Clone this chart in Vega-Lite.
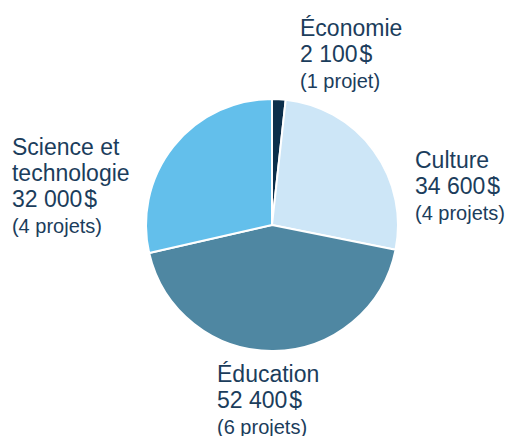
{
  "$schema": "https://vega.github.io/schema/vega-lite/v6.json",
  "autosize": {"type": "none"},
  "width": 252,
  "height": 252,
  "padding": {"left": 146, "top": 99, "right": 112, "bottom": 85},
  "background": "white",
  "config": {"view": {"stroke": null}, "text": {"font": "Liberation Sans"}},
  "data": {
    "values": [
      {"secteur": "Économie", "ordre": 1, "part": 2100, "titre": "Économie\n2 100\u200a$", "projets": "(1 projet)"},
      {"secteur": "Culture", "ordre": 2, "part": 32000, "titre": "Culture\n34 600\u200a$", "projets": "(4 projets)"},
      {"secteur": "Éducation", "ordre": 3, "part": 52400, "titre": "Éducation\n52 400\u200a$", "projets": "(6 projets)"},
      {"secteur": "Science et technologie", "ordre": 4, "part": 34600, "titre": "Science et\ntechnologie\n32 000\u200a$", "projets": "(4 projets)"}
    ]
  },
  "encoding": {
    "theta": {"field": "part", "type": "quantitative", "stack": true},
    "order": {"field": "ordre", "type": "quantitative"}
  },
  "layer": [
    {
      "mark": {"type": "arc", "stroke": "white", "strokeWidth": 2},
      "encoding": {
        "color": {
          "field": "secteur",
          "type": "nominal",
          "scale": {
            "domain": ["Économie", "Culture", "Éducation", "Science et technologie"],
            "range": ["#0c2f4b", "#cde6f7", "#4f87a2", "#63bfeb"]
          },
          "legend": null
        }
      }
    },
    {
      "mark": {"type": "text", "align": "left", "baseline": "alphabetic", "radius": 140, "dx": 20.4, "dy": -49.2, "fontSize": 23, "lineHeight": 26, "lineBreak": "\n", "fill": "#1b3d5c"},
      "encoding": {"detail": {"field": "secteur"}, "text": {"condition": {"test": "datum.secteur === 'Économie'", "field": "titre", "type": "nominal"}, "value": ""}}
    },
    {
      "mark": {"type": "text", "align": "left", "baseline": "alphabetic", "radius": 140, "dx": 20.4, "dy": 2.8, "fontSize": 20, "fill": "#1b3d5c"},
      "encoding": {"detail": {"field": "secteur"}, "text": {"condition": {"test": "datum.secteur === 'Économie'", "field": "projets", "type": "nominal"}, "value": ""}}
    },
    {
      "mark": {"type": "text", "align": "left", "baseline": "alphabetic", "radius": 140, "dx": 30, "dy": 25.7, "fontSize": 23, "lineHeight": 26, "lineBreak": "\n", "fill": "#1b3d5c"},
      "encoding": {"detail": {"field": "secteur"}, "text": {"condition": {"test": "datum.secteur === 'Culture'", "field": "titre", "type": "nominal"}, "value": ""}}
    },
    {
      "mark": {"type": "text", "align": "left", "baseline": "alphabetic", "radius": 140, "dx": 30, "dy": 77.7, "fontSize": 20, "fill": "#1b3d5c"},
      "encoding": {"detail": {"field": "secteur"}, "text": {"condition": {"test": "datum.secteur === 'Culture'", "field": "projets", "type": "nominal"}, "value": ""}}
    },
    {
      "mark": {"type": "text", "align": "left", "baseline": "alphabetic", "radius": 140, "dx": -56.8, "dy": 17, "fontSize": 23, "lineHeight": 26, "lineBreak": "\n", "fill": "#1b3d5c"},
      "encoding": {"detail": {"field": "secteur"}, "text": {"condition": {"test": "datum.secteur === 'Éducation'", "field": "titre", "type": "nominal"}, "value": ""}}
    },
    {
      "mark": {"type": "text", "align": "left", "baseline": "alphabetic", "radius": 140, "dx": -56.8, "dy": 69, "fontSize": 20, "fill": "#1b3d5c"},
      "encoding": {"detail": {"field": "secteur"}, "text": {"condition": {"test": "datum.secteur === 'Éducation'", "field": "projets", "type": "nominal"}, "value": ""}}
    },
    {
      "mark": {"type": "text", "align": "left", "baseline": "alphabetic", "radius": 140, "dx": -150.6, "dy": 17.3, "fontSize": 23, "lineHeight": 26, "lineBreak": "\n", "fill": "#1b3d5c"},
      "encoding": {"detail": {"field": "secteur"}, "text": {"condition": {"test": "datum.secteur === 'Science et technologie'", "field": "titre", "type": "nominal"}, "value": ""}}
    },
    {
      "mark": {"type": "text", "align": "left", "baseline": "alphabetic", "radius": 140, "dx": -150.6, "dy": 95.3, "fontSize": 20, "fill": "#1b3d5c"},
      "encoding": {"detail": {"field": "secteur"}, "text": {"condition": {"test": "datum.secteur === 'Science et technologie'", "field": "projets", "type": "nominal"}, "value": ""}}
    }
  ]
}
